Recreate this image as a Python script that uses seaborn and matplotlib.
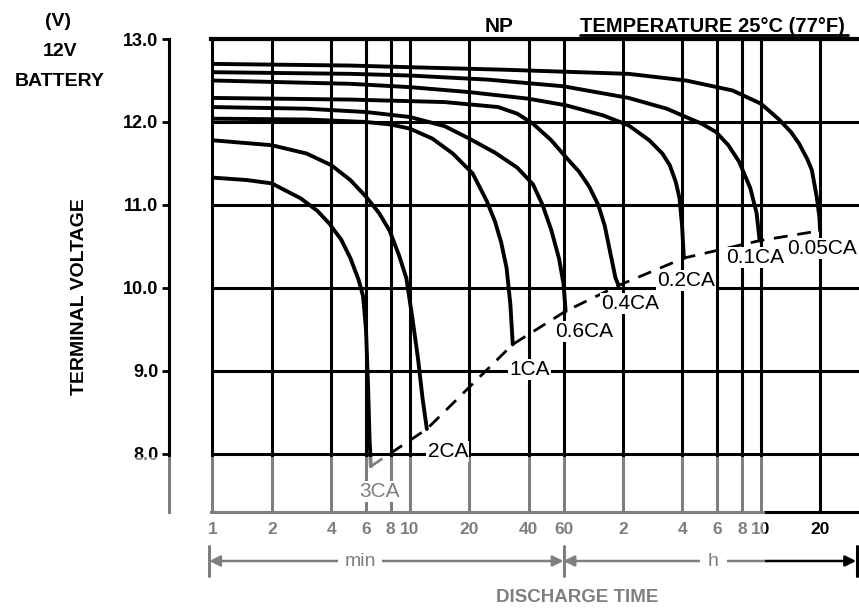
import matplotlib
matplotlib.use("Agg")
import matplotlib.pyplot as plt
import matplotlib.transforms as mtransforms
from matplotlib.lines import Line2D
from matplotlib.patches import Rectangle
from matplotlib.ticker import NullLocator
import pandas as pd
import seaborn as sns

# NP 12 V battery discharge characteristics at 25 °C
# discharge time in minutes, terminal voltage in volts
rates = ["3CA", "2CA", "1CA", "0.6CA", "0.4CA", "0.2CA", "0.1CA", "0.05CA"]

t_3ca = [1, 1.5, 2, 2.8, 3.4, 3.9, 4.5, 5.0, 5.5, 5.8, 6.0, 6.15, 6.25, 6.35]
v_3ca = [11.33, 11.30, 11.26, 11.08, 10.93, 10.78, 10.58, 10.36, 10.10, 9.90, 9.50, 8.80, 8.20, 7.85]

t_2ca = [1, 2, 3, 4, 5, 6, 7, 7.9, 8.8, 9.6, 10.3, 11.0, 11.6, 12.2]
v_2ca = [11.78, 11.72, 11.62, 11.48, 11.30, 11.10, 10.90, 10.69, 10.40, 10.12, 9.64, 9.15, 8.67, 8.30]

t_1ca = [1, 3, 6, 8, 10, 13, 16.5, 20.8, 24.5, 27, 29, 30.9, 32.3, 33.2]
v_1ca = [12.04, 12.03, 12.00, 11.97, 11.92, 11.80, 11.62, 11.38, 11.05, 10.80, 10.55, 10.24, 9.80, 9.32]

t_06ca = [1, 3, 6, 10, 15, 20, 27, 35, 42, 47, 52, 57, 60, 61.5]
v_06ca = [12.18, 12.16, 12.12, 12.06, 11.95, 11.80, 11.63, 11.45, 11.25, 11.00, 10.70, 10.35, 10.05, 9.72]

t_04ca = [1, 5, 15, 28, 35, 42, 52, 62, 72, 81, 90, 97, 104, 110, 114]
v_04ca = [12.29, 12.27, 12.24, 12.18, 12.10, 11.98, 11.78, 11.57, 11.40, 11.22, 11.00, 10.75, 10.40, 10.12, 10.03]

t_02ca = [1, 5, 10, 20, 40, 62, 95, 128, 163, 190, 207, 222, 232, 239, 244]
v_02ca = [12.50, 12.46, 12.42, 12.36, 12.28, 12.20, 12.08, 11.96, 11.78, 11.62, 11.48, 11.28, 11.08, 10.75, 10.36]

t_01ca = [1, 5, 10, 25, 60, 128, 200, 250, 300, 355, 410, 465, 530, 570, 590]
v_01ca = [12.60, 12.58, 12.56, 12.51, 12.43, 12.29, 12.16, 12.06, 11.98, 11.88, 11.72, 11.52, 11.20, 10.90, 10.57]

t_005ca = [1, 5, 10, 30, 128, 250, 430, 600, 740, 850, 935, 1030, 1085, 1150, 1185, 1195]
v_005ca = [12.70, 12.68, 12.66, 12.63, 12.58, 12.50, 12.38, 12.22, 12.03, 11.88, 11.74, 11.55, 11.42, 11.09, 10.85, 10.69]

times = [t_3ca, t_2ca, t_1ca, t_06ca, t_04ca, t_02ca, t_01ca, t_005ca]
volts = [v_3ca, v_2ca, v_1ca, v_06ca, v_04ca, v_02ca, v_01ca, v_005ca]

# curve label offsets from each end point, in points
label_dx = [6.5, 15, 12, 13, 8, 1.5, -3.5, 1.5]
label_dy = [-18, -16, -18, -14.5, -13, -16, -12, -13]

tick_minutes = [1, 2, 4, 6, 8, 10, 20, 40, 60, 120, 240, 360, 480, 600, 1200]
tick_labels = ["1", "2", "4", "6", "8", "10", "20", "40", "60", "2", "4", "6", "8", "10", "20"]
volt_ticks = [8.0, 9.0, 10.0, 11.0, 12.0, 13.0]

sns.set_style("white")
plt.rcParams["font.family"] = ["Liberation Sans", "DejaVu Sans"]

W, H = 859, 613
fig = plt.figure(figsize=(W / 100, H / 100), dpi=100)
ax = fig.add_axes([211 / W, 1 - 512 / H, (W - 211) / W, (512 - 39) / H])
ax.set_xscale("log")

df = pd.concat(
    [pd.DataFrame({"minutes": t, "volts": v, "rate": r}) for r, t, v in zip(rates, times, volts)],
    ignore_index=True,
)
sns.lineplot(data=df, x="minutes", y="volts", units="rate", estimator=None, errorbar=None,
             sort=False, color="black", linewidth=2.8, legend=False, ax=ax, zorder=3)

# end-of-discharge voltage line through the end of every curve
end_t = [t[-1] for t in times]
end_v = [v[-1] for v in volts]
sns.lineplot(x=end_t, y=end_v, sort=False, color="black", linewidth=2.0,
             linestyle=(0, (5, 3.5)), ax=ax, zorder=3)

for r, et, ev, dx, dy in zip(rates, end_t, end_v, label_dx, label_dy):
    ax.annotate(r, xy=(et, ev), xytext=(dx, dy), textcoords="offset points",
                ha="center", va="center", fontsize=15, color="black", zorder=4,
                bbox=dict(boxstyle="square,pad=0.05", fc="white", ec="none"))

ax.set_xlim(0.985, 1880)
ax.set_ylim(7.3, 13.0)
ax.set_xticks(tick_minutes, tick_labels)
ax.xaxis.set_minor_locator(NullLocator())
ax.set_yticks(volt_ticks, [f"{v:.1f}" for v in volt_ticks])
ax.set_xlabel("")
ax.set_ylabel("")

ax.grid(True, which="major", color="black", linewidth=2.2)
ax.set_axisbelow(True)

sns.despine(ax=ax, top=False, right=True, left=False, bottom=False, offset={"left": 30})
for side, lw in [("left", 2.2), ("top", 3.0), ("bottom", 2.2)]:
    ax.spines[side].set_color("black")
    ax.spines[side].set_linewidth(lw)

ax.tick_params(axis="y", left=True, direction="out", length=5, width=2, pad=3,
               labelsize=13, colors="black")
ax.tick_params(axis="x", bottom=False, length=0, pad=7, labelsize=12.5, colors="black")
for lab in ax.get_yticklabels() + ax.get_xticklabels():
    lab.set_fontweight("bold")

# headings
bold = dict(fontweight="bold", color="black")
fig.text(58 / W, 1 - 22 / H, "(V)", ha="center", va="center", fontsize=14, **bold)
fig.text(60 / W, 1 - 52 / H, "12V", ha="center", va="center", fontsize=14, **bold)
fig.text(60 / W, 1 - 81 / H, "BATTERY", ha="center", va="center", fontsize=14, **bold)
fig.text(80 / W, 1 - 297 / H, "TERMINAL VOLTAGE", rotation=90, ha="center", va="center",
         fontsize=14, **bold)
fig.text(499 / W, 1 - 32 / H, "NP", ha="center", va="baseline", fontsize=15, **bold)
temp = fig.text(580 / W, 1 - 32 / H, "TEMPERATURE 25°C (77°F)", ha="left", va="baseline",
                fontsize=14.5, **bold)
fig.canvas.draw()
bb = temp.get_window_extent().transformed(fig.transFigure.inverted())
fig.add_artist(Line2D([bb.x0, min(bb.x1 + 0.004, 0.998)], [1 - 34.5 / H] * 2,
                      transform=fig.transFigure, color="black", lw=2.0))

# min / h ranges under the time axis
row = mtransforms.blended_transform_factory(ax.transData, fig.transFigure)
row_axes = mtransforms.blended_transform_factory(ax.transAxes, fig.transFigure)
y_row = 1 - 561 / H
arrow = dict(arrowstyle="<|-|>", color="black", lw=1.8, mutation_scale=16, shrinkA=0, shrinkB=0)
ax.annotate("", xy=(0.965, y_row), xytext=(60, y_row), xycoords=row, textcoords=row,
            arrowprops=arrow, annotation_clip=False)
ax.annotate("", xy=(0.9955, y_row), xytext=(60, y_row), xycoords=row_axes, textcoords=row,
            arrowprops=arrow, annotation_clip=False)
half = 15 / H
for x, tr in [(0.96, row), (60, row), (0.997, row_axes)]:
    fig.add_artist(Line2D([x, x], [y_row - half, y_row + half], transform=tr,
                          color="black", lw=2.2))
ax.text(5.6, y_row, "min", transform=row, ha="center", va="center", fontsize=14,
        color="black", clip_on=False, zorder=5,
        bbox=dict(boxstyle="square,pad=0.3", fc="white", ec="none"))
ax.text(345, y_row, "h", transform=row, ha="center", va="center", fontsize=14,
        color="black", clip_on=False, zorder=5,
        bbox=dict(boxstyle="square,pad=0.4", fc="white", ec="none"))
fig.text(577 / W, 1 - 597 / H, "DISCHARGE TIME", ha="center", va="center",
         fontsize=13.5, **bold)

# faded lower-left part of the sheet
fig.add_artist(Rectangle((0, 0), 765 / W, (H - 457) / H, transform=fig.transFigure,
                         fc="white", ec="none", alpha=0.5, zorder=20))

fig.savefig("out.png", dpi=100)
